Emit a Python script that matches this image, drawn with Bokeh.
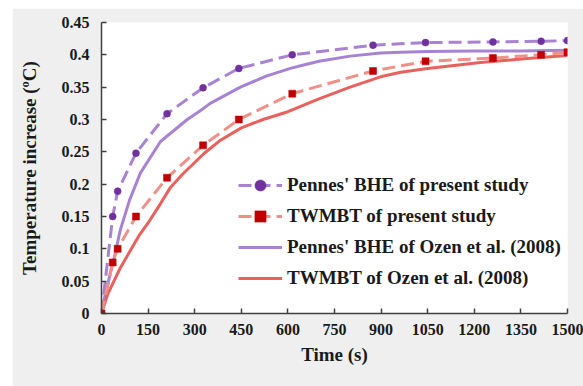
from bokeh.plotting import figure
from bokeh.models import Legend, LegendItem, FixedTicker, Range1d, Spacer
from bokeh.layouts import row, column
from bokeh.embed import file_html
from bokeh.resources import INLINE

# ---- data ----
t_present = [0, 36, 52, 111, 211, 327, 442, 614, 874, 1043, 1260, 1415, 1500]
pennes_present = [0, 0.15, 0.189, 0.248, 0.309, 0.349, 0.379, 0.40, 0.415, 0.419, 0.42, 0.421, 0.422]
twmbt_present = [0, 0.079, 0.10, 0.15, 0.21, 0.26, 0.30, 0.34, 0.375, 0.39, 0.395, 0.40, 0.404]

t_ozen_p = [0, 10, 25, 45, 61, 90, 125, 190, 276, 319, 350, 447, 530, 608, 641, 700, 800, 898, 963, 1050, 1200, 1350, 1500]
pennes_ozen = [0, 0.025, 0.055, 0.095, 0.13, 0.175, 0.217, 0.266, 0.300, 0.314, 0.325, 0.350, 0.367, 0.379, 0.383, 0.390, 0.398, 0.403, 0.404, 0.405, 0.406, 0.406, 0.407]

t_ozen_t = [0, 20, 40, 60, 90, 120, 150, 190, 222, 260, 329, 383, 450, 520, 600, 700, 800, 898, 963, 1050, 1220, 1360, 1500]
twmbt_ozen = [0, 0.03, 0.05, 0.07, 0.095, 0.12, 0.14, 0.17, 0.195, 0.215, 0.247, 0.268, 0.287, 0.300, 0.312, 0.332, 0.350, 0.366, 0.373, 0.379, 0.388, 0.394, 0.399]

x_ticks = [0, 150, 300, 450, 600, 750, 900, 1050, 1200, 1350, 1500]
y_ticks = [0, 0.05, 0.1, 0.15, 0.2, 0.25, 0.3, 0.35, 0.4, 0.45]
y_tick_labels = ["0", "0.05", "0.1", "0.15", "0.2", "0.25", "0.3", "0.35", "0.4", "0.45"]

labels = ["Pennes' BHE of present study", "TWMBT of present study",
          "Pennes' BHE of Ozen et al. (2008)", "TWMBT of Ozen et al. (2008)"]

FONT = "Liberation Serif"
BG = "#efefef"

p = figure(width=571, height=378, output_backend="svg", toolbar_location=None,
           x_range=Range1d(0, 1500), y_range=Range1d(0, 0.45),
           min_border_left=89, min_border_right=16, min_border_top=14, min_border_bottom=73)
p.border_fill_color = BG
p.background_fill_color = "white"
p.outline_line_color = None
p.xgrid.grid_line_color = None
p.ygrid.grid_line_color = None

purple_line = "#a883d3"
purple_mark = "#7030a0"
red_dash = "#f19088"
red_mark = "#c00000"
red_solid = "#e8615c"

r_ps = p.line(t_ozen_p, pennes_ozen, line_color=purple_line, line_width=3)
r_rs = p.line(t_ozen_t, twmbt_ozen, line_color=red_solid, line_width=3)
r_pd = p.line(t_present, pennes_present, line_color=purple_line, line_width=3, line_dash="13 6")
r_pm = p.scatter(t_present, pennes_present, marker="circle", size=7, fill_color=purple_mark, line_color=purple_mark, line_width=0.5)
r_rd = p.line(t_present, twmbt_present, line_color=red_dash, line_width=3, line_dash="13 6")
r_rm = p.scatter(t_present, twmbt_present, marker="square", size=7, fill_color=red_mark, line_color=red_mark, line_width=0.5)

for ax in (p.xaxis[0], p.yaxis[0]):
    ax.axis_line_color = "#404040"
    ax.axis_line_width = 1.5
    ax.major_tick_line_color = "#404040"
    ax.major_tick_line_width = 1.5
    ax.major_tick_in = 5
    ax.major_tick_out = 0
    ax.minor_tick_line_color = None
    ax.major_label_text_font = FONT
    ax.major_label_text_font_style = "bold"
    ax.major_label_text_font_size = "16px"
    ax.major_label_text_color = "#1a1a1a"
    ax.axis_label_text_font = FONT
    ax.axis_label_text_font_style = "bold"
    ax.axis_label_text_font_size = "19px"
    ax.axis_label_text_color = "#1a1a1a"

p.xaxis[0].ticker = FixedTicker(ticks=x_ticks)
p.yaxis[0].ticker = FixedTicker(ticks=y_ticks)
p.yaxis[0].major_label_overrides = {v: s for v, s in zip(y_ticks, y_tick_labels)}
p.xaxis[0].major_label_standoff = 10
p.yaxis[0].major_label_standoff = 12
p.xaxis.axis_label = "Time (s)"
p.yaxis.axis_label = "Temperature increase (ºC)"
p.xaxis[0].axis_label_standoff = 6
p.yaxis[0].axis_label_standoff = 19

legend = Legend(items=[
    LegendItem(label=labels[0], renderers=[r_pd, r_pm]),
    LegendItem(label=labels[1], renderers=[r_rd, r_rm]),
    LegendItem(label=labels[2], renderers=[r_ps]),
    LegendItem(label=labels[3], renderers=[r_rs]),
], location=(137, 21))
legend.background_fill_alpha = 0
legend.border_line_color = None
legend.padding = 0
legend.margin = 0
legend.spacing = 3
legend.glyph_width = 44
legend.glyph_height = 28
legend.label_height = 28
legend.label_standoff = 5
legend.label_text_font = FONT
legend.label_text_font_style = "bold"
legend.label_text_font_size = "19px"
legend.label_text_color = "#1a1a1a"
p.add_layout(legend)

layout = column(Spacer(height=8, width=583), row(Spacer(width=12, height=378), p))
open("out.html", "w").write(file_html(layout, INLINE))
